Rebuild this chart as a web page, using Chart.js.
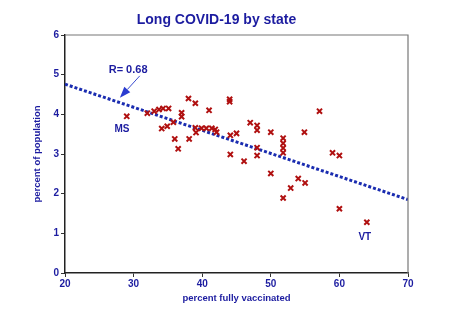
<!DOCTYPE html>
<html>
<head>
<meta charset="utf-8">
<script src="https://cdn.jsdelivr.net/npm/chart.js@4/dist/chart.umd.min.js"></script>
<style>
html,body{margin:0;padding:0;background:#fff;}
#wrap{width:450px;height:332px;}
</style>
</head>
<body>
<div id="wrap"><canvas id="c" width="450" height="332"></canvas></div>
<script>
// Data
const vaccinated = [29.0,32.0,33.0,33.7,34.3,35.1,37.0,37.0,38.0,39.0,34.1,34.9,35.8,36.0,36.5,38.1,39.0,39.1,41.0,44.0,44.0,39.9,40.6,41.4,41.9,42.1,44.1,45.0,47.0,48.0,48.0,50.0,51.8,51.8,51.8,51.8,44.1,46.1,48.0,48.0,57.1,54.9,59.0,60.0,50.0,51.8,54.0,55.0,52.9,60.0,64.0];
const longCovid  = [3.95,4.03,4.08,4.12,4.15,4.15,4.04,3.94,4.40,4.28,3.64,3.70,3.80,3.38,3.13,3.38,3.66,3.54,4.10,4.38,4.32,3.65,3.65,3.65,3.62,3.55,3.47,3.52,3.79,3.72,3.60,3.55,3.40,3.27,3.15,3.03,2.99,2.82,3.16,2.96,4.08,3.55,3.03,2.96,2.51,1.89,2.38,2.27,2.14,1.62,1.28];
const trendX = [20, 70];
const trendY = [4.76, 1.85];
const xTicks = [20,30,40,50,60,70];
const yTicks = [0,1,2,3,4,5,6];
const labelNames = ['MS','VT'];
const labelX = [28.3, 63.7];
const labelY = [3.62, 0.90];
const rText = 'R= 0.68';
const rPos = [29.2, 5.11];
const arrowFrom = [30.9, 4.97];
const arrowTo = [28.0, 4.42];
const titleText = 'Long COVID-19 by state';

const BLUE = '#1c1ca0';
const FONT = "'Liberation Sans', Arial, sans-serif";

const annot = {
  id: 'annot',
  afterDatasetsDraw(chart) {
    const {ctx, chartArea: a, scales: {x, y}} = chart;
    ctx.save();
    // top/right frame
    ctx.strokeStyle = '#777';
    ctx.lineWidth = 1.2;
    ctx.beginPath();
    ctx.moveTo(a.left, a.top); ctx.lineTo(a.right, a.top); ctx.lineTo(a.right, a.bottom);
    ctx.stroke();
    // title
    ctx.fillStyle = BLUE;
    ctx.textAlign = 'center'; ctx.textBaseline = 'middle';
    ctx.font = 'bold 14px ' + FONT;
    ctx.fillText(titleText, (a.left + a.right) / 2 - 20, 20);
    ctx.font = 'bold 10px ' + FONT;
    for (let i = 0; i < labelNames.length; i++) {
      ctx.fillText(labelNames[i], x.getPixelForValue(labelX[i]), y.getPixelForValue(labelY[i]));
    }
    ctx.font = 'bold 11px ' + FONT;
    ctx.fillText(rText, x.getPixelForValue(rPos[0]), y.getPixelForValue(rPos[1]));
    // arrow
    const x1 = x.getPixelForValue(arrowFrom[0]), y1 = y.getPixelForValue(arrowFrom[1]);
    const x2 = x.getPixelForValue(arrowTo[0]), y2 = y.getPixelForValue(arrowTo[1]);
    const ang = Math.atan2(y2 - y1, x2 - x1);
    const hl = 11, hw = 4;
    const bx = x2 - hl * Math.cos(ang), by = y2 - hl * Math.sin(ang);
    ctx.strokeStyle = '#3a4cd0';
    ctx.lineWidth = 1;
    ctx.beginPath(); ctx.moveTo(x1, y1); ctx.lineTo(bx, by); ctx.stroke();
    ctx.fillStyle = '#2a3cd0';
    ctx.beginPath();
    ctx.moveTo(x2, y2);
    ctx.lineTo(bx + hw * Math.sin(ang), by - hw * Math.cos(ang));
    ctx.lineTo(bx - hw * Math.sin(ang), by + hw * Math.cos(ang));
    ctx.closePath(); ctx.fill();
    ctx.restore();
  }
};

new Chart(document.getElementById('c'), {
  type: 'scatter',
  data: {
    datasets: [
      {
        type: 'line',
        data: trendX.map((v, i) => ({x: v, y: trendY[i]})),
        borderColor: '#1a2cb0',
        borderWidth: 3,
        borderDash: [3, 2],
        pointRadius: 0,
        fill: false,
        order: 2
      },
      {
        data: vaccinated.map((v, i) => ({x: v, y: longCovid[i]})),
        pointStyle: 'crossRot',
        pointRadius: 3.6,
        borderColor: '#b01010',
        backgroundColor: '#b01010',
        pointBorderWidth: 2,
        order: 1
      }
    ]
  },
  options: {
    responsive: false,
    animation: false,
    layout: {padding: {left: 0, right: 42, top: 35, bottom: 0}},
    plugins: {
      legend: {display: false},
      tooltip: {enabled: false},
      title: {display: false}
    },
    scales: {
      x: {
        type: 'linear', min: 20, max: 70,
        afterBuildTicks: s => { s.ticks = xTicks.map(v => ({value: v})); },
        afterFit: s => { s.height = 59; },
        ticks: {color: BLUE, font: {family: FONT, size: 10, weight: 'bold'}, padding: 1, maxRotation: 0},
        grid: {drawOnChartArea: false, drawTicks: true, tickLength: 4, color: '#333'},
        border: {color: '#222', width: 1.5},
        title: {display: true, text: 'percent fully vaccinated', color: BLUE,
                font: {family: FONT, size: 9.5, weight: 'bold'}, padding: {top: 0, bottom: 28}}
      },
      y: {
        type: 'linear', min: 0, max: 6,
        afterBuildTicks: s => { s.ticks = yTicks.map(v => ({value: v})); },
        afterFit: s => { s.width = 65; },
        ticks: {color: BLUE, font: {family: FONT, size: 10, weight: 'bold'}, padding: 2},
        grid: {drawOnChartArea: false, drawTicks: true, tickLength: 4, color: '#333'},
        border: {color: '#222', width: 1.5},
        title: {display: true, text: 'percent of population', color: BLUE,
                font: {family: FONT, size: 9.5, weight: 'bold'}, padding: {top: 32, bottom: 0}}
      }
    }
  },
  plugins: [annot]
});
</script>
</body>
</html>
